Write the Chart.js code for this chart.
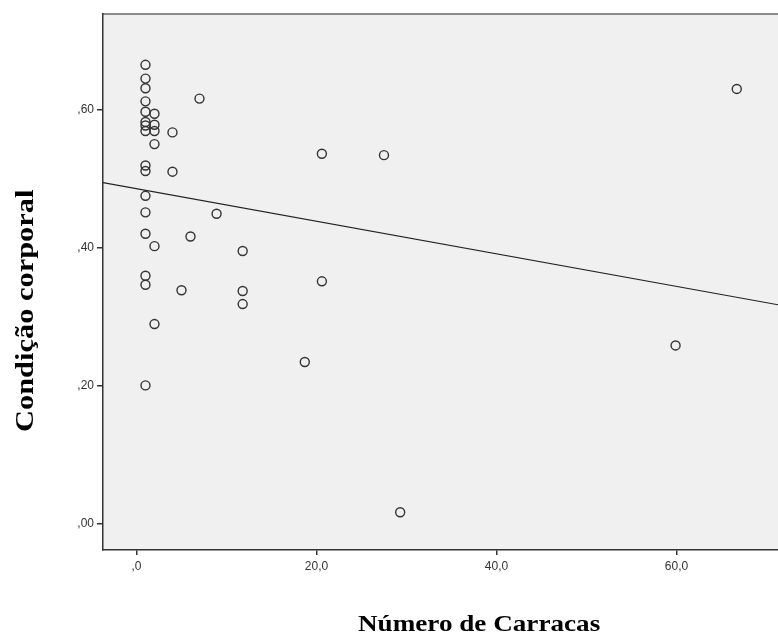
<!DOCTYPE html>
<html>
<head>
<meta charset="utf-8">
<script src="https://cdn.jsdelivr.net/npm/chart.js@4.4.1/dist/chart.umd.min.js"></script>
<style>
    html, body { margin: 0; padding: 0; background: #ffffff; }
    #wrap { width: 778px; height: 637px; position: relative; }
</style>
</head>
<body>
<div id="wrap"><canvas id="chart"></canvas></div>
<script>
// Número de Carracas (x) e Condição corporal (y)
const carracas = [
    1, 1, 1, 1, 1, 1, 1, 1, 1, 1, 1, 1, 1, 1, 1, 1,
    2, 2, 2, 2, 2, 2,
    4, 4, 5, 6, 7, 8.9,
    11.8, 11.8, 11.8,
    18.7, 20.6, 20.6, 27.5, 29.3,
    59.9, 66.7
];
const condicao = [
    0.665, 0.645, 0.631, 0.612, 0.597, 0.582, 0.577, 0.569, 0.519, 0.511, 0.475, 0.451, 0.420, 0.359, 0.346, 0.200,
    0.594, 0.578, 0.569, 0.550, 0.402, 0.289,
    0.567, 0.510, 0.338, 0.416, 0.616, 0.449,
    0.395, 0.337, 0.318,
    0.234, 0.536, 0.351, 0.534, 0.016,
    0.258, 0.630
];

const fitX = [-3.72, 71.28];
const fitY = [0.494, 0.317];

// marcas dos eixos
const xTicks = [0, 20, 40, 60];
const yTicks = [0, 0.2, 0.4, 0.6];

const xTitle = 'Número de Carracas';
const yTitle = 'Condição corporal';

// formato com vírgula, sem zero à esquerda (",60", "20,0")
function fmt(v, dec) {
    let s = v.toFixed(dec).replace('.', ',');
    if (s.startsWith('0,')) s = s.substring(1);
    return s;
}

// títulos dos eixos desenhados à mão para ficar na posição do original
// (a fonte do original é um pouco mais larga, daí o scale horizontal)
const axisTitles = {
    id: 'axisTitles',
    afterDraw(chart) {
        const ctx = chart.ctx;
        ctx.save();
        ctx.fillStyle = '#000000';
        ctx.textAlign = 'left';
        ctx.textBaseline = 'alphabetic';

        ctx.save();
        ctx.font = 'bold 23px "Liberation Serif", "Times New Roman", serif';
        ctx.translate(358, 631);
        ctx.scale(1.18, 1);
        ctx.fillText(xTitle, 0, 0);
        ctx.restore();

        ctx.save();
        ctx.font = 'bold 26px "Liberation Serif", "Times New Roman", serif';
        ctx.translate(32.5, 432);
        ctx.rotate(-Math.PI / 2);
        ctx.scale(1.17, 1);
        ctx.fillText(yTitle, 0, 0);
        ctx.restore();

        ctx.restore();
    }
};

// fundo cinza da área do gráfico + borda superior
const plotBg = {
    id: 'plotBg',
    beforeDraw(chart) {
        const { ctx, chartArea } = chart;
        ctx.save();
        ctx.fillStyle = '#f0f0f0';
        ctx.fillRect(chartArea.left, chartArea.top, chartArea.right - chartArea.left, chartArea.bottom - chartArea.top);
        ctx.strokeStyle = '#8a8a8a';
        ctx.lineWidth = 2;
        ctx.beginPath();
        ctx.moveTo(chartArea.left, chartArea.top);
        ctx.lineTo(chartArea.right, chartArea.top);
        ctx.stroke();
        ctx.restore();
    }
};

const scatterPoints = carracas.map((x, i) => ({ x: x, y: condicao[i] }));
const fitPoints = fitX.map((x, i) => ({ x: x, y: fitY[i] }));

new Chart(document.getElementById('chart'), {
    type: 'scatter',
    data: {
        datasets: [
            {
                label: 'Observado',
                data: scatterPoints,
                pointStyle: 'circle',
                pointRadius: 4.5,
                pointHoverRadius: 4.5,
                borderWidth: 1.4,
                borderColor: '#333333',
                backgroundColor: 'rgba(0,0,0,0)'
            },
            {
                label: 'Linear',
                type: 'line',
                data: fitPoints,
                borderColor: '#222222',
                borderWidth: 1.2,
                pointRadius: 0,
                fill: false
            }
        ]
    },
    options: {
        responsive: true,
        maintainAspectRatio: false,
        animation: false,
        layout: { autoPadding: false, padding: { top: 14, right: 0, bottom: 0, left: 0 } },
        plugins: {
            legend: { display: false },
            tooltip: { enabled: false }
        },
        scales: {
            x: {
                type: 'linear',
                min: fitX[0],
                max: fitX[1],
                afterBuildTicks: (scale) => { scale.ticks = xTicks.map(v => ({ value: v })); },
                afterFit: (scale) => { scale.height = 87; scale.paddingRight = 0; scale.paddingLeft = 0; },
                grid: { drawOnChartArea: false, drawTicks: true, tickLength: 5, color: '#333333', lineWidth: 1.5 },
                border: { display: true, color: '#333333', width: 1.5 },
                ticks: {
                    color: '#333333',
                    font: { family: '"Liberation Sans", Arial, sans-serif', size: 12 },
                    padding: 4,
                    maxRotation: 0,
                    callback: (v) => fmt(v, 1)
                }
            },
            y: {
                type: 'linear',
                min: -0.0387,
                max: 0.7387,
                afterBuildTicks: (scale) => { scale.ticks = yTicks.map(v => ({ value: v })); },
                afterFit: (scale) => { scale.width = 103; scale.paddingTop = 0; scale.paddingBottom = 0; },
                grid: { drawOnChartArea: false, drawTicks: true, tickLength: 6, color: '#333333', lineWidth: 1.5 },
                border: { display: true, color: '#333333', width: 1.5 },
                ticks: {
                    color: '#333333',
                    font: { family: '"Liberation Sans", Arial, sans-serif', size: 12 },
                    padding: 3,
                    callback: (v) => fmt(v, 2)
                }
            }
        }
    },
    plugins: [plotBg, axisTitles]
});
</script>
</body>
</html>
